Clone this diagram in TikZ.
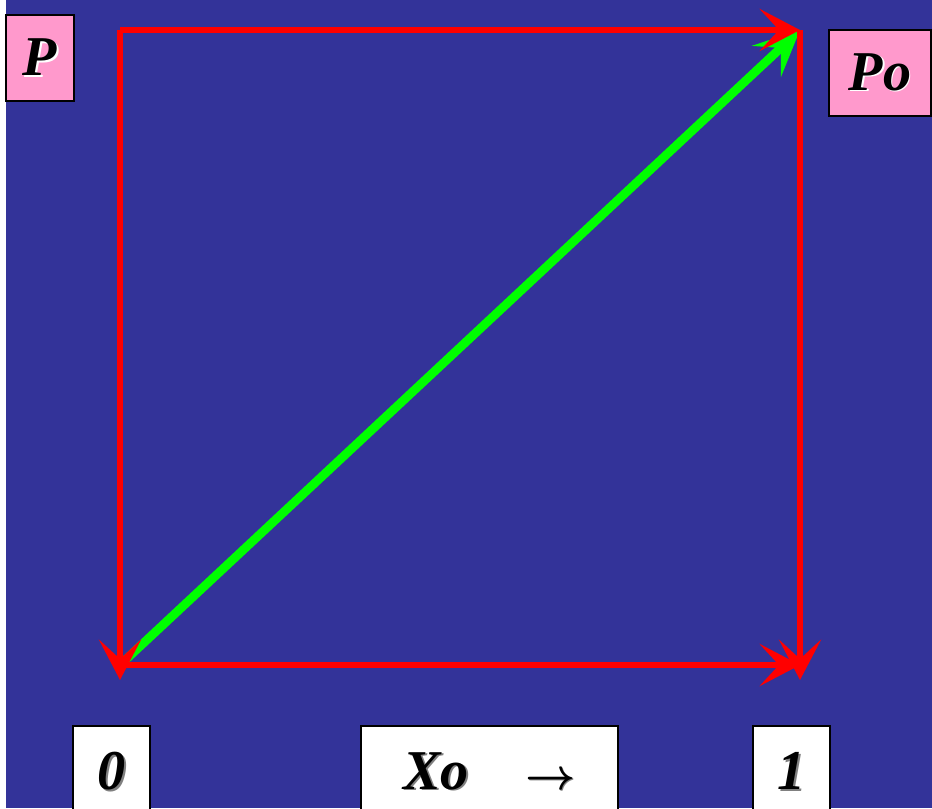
\documentclass[tikz,border=0pt]{standalone}
\usepackage{fontspec}
\setmainfont{Liberation Serif}
\usetikzlibrary{arrows.meta}
\definecolor{fondo}{HTML}{333399}
\definecolor{rosa}{HTML}{FF99CC}
\definecolor{rojo}{HTML}{FF0000}
\definecolor{verde}{HTML}{00FF00}
\newcommand\sombra[2]{\makebox[0pt][l]{\hspace{0.9pt}\raisebox{-0.9pt}{\textcolor{#1}{#2}}}#2}

\begin{document}
\begin{tikzpicture}[x=0.02cm,y=-0.02cm, box/.style={draw=black,line width=1.6pt,fill=#1,inner sep=0pt,font=\fontsize{32}{36}\selectfont\bfseries\itshape}, box/.default=white, lado/.style={rojo,line width=3.8pt,-{Stealth[length=23pt,width=24pt,inset=11pt]}}, diag/.style={verde,line width=5pt,-{Stealth[length=26pt,width=24pt,inset=11pt]}}]
\clip (0,0) rectangle (932,808);
\fill[white] (0,0) rectangle (932,808);
\fill[fondo] (6,0) rectangle (932,808);
\coordinate (tl) at (120,30); \coordinate (tr) at (800,30);
\coordinate (bl) at (120,665); \coordinate (br) at (800,665);
\coordinate (blTip) at (120,680); \coordinate (brTip) at (800,680);
\draw[diag] (bl)--(tr);
\draw[lado] (tl)--(tr); \draw[lado] (tl)--(blTip); \draw[lado] (bl)--(br); \draw[lado] (tr)--(brTip);
\node[box=rosa,minimum width=1.36cm,minimum height=1.72cm] (p) at (40,58) {\sombra{white}{P}};
\node[box=rosa,minimum width=2.04cm,minimum height=1.72cm] (po) at (880,73) {\sombra{white}{Po}};
\node[box,minimum width=1.54cm,minimum height=1.84cm] (cero) at (111.5,772) {\sombra{gray}{0}};
\node[box,minimum width=5.14cm,minimum height=1.84cm] (xo) at (489.5,772) {\sombra{gray}{Xo\hspace{1em}{\boldmath$\rightarrow$}}};
\node[box,minimum width=1.54cm,minimum height=1.84cm] (uno) at (791.5,772) {\sombra{gray}{1}};
\end{tikzpicture}
\end{document}
